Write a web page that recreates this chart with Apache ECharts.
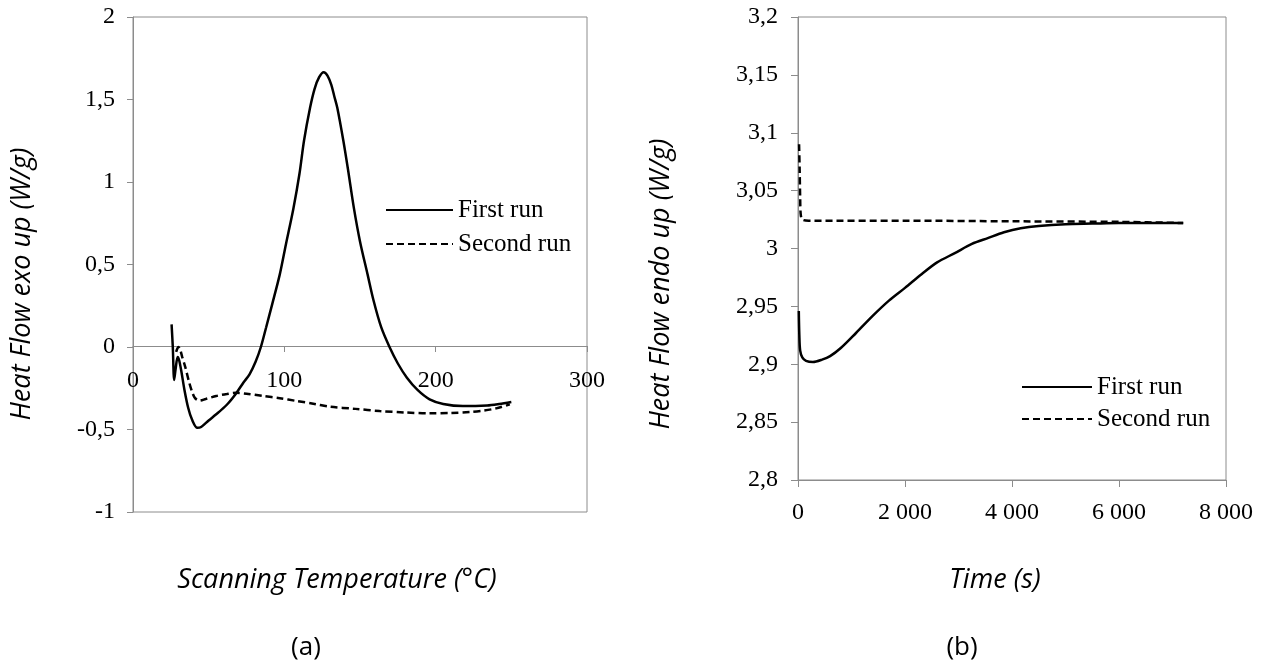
<!DOCTYPE html>
<html>
<head>
<meta charset="utf-8">
<script src="https://cdn.jsdelivr.net/npm/echarts@6/dist/echarts.min.js"></script>
<style>
  html, body { margin: 0; background: #fff; }
  #chart { width: 1273px; height: 667px; }
</style>
</head>
<body>
<div id="chart"></div>
<script>
// (a) scanning temperature (°C) vs heat flow exo up (W/g)
const scanFirst = [
  [25.5, 0.137], [26.3, 0.0], [27.2, -0.2], [28.2, -0.13], [29.5, -0.06], [30.5, -0.08],
  [32, -0.15], [34, -0.26], [36.5, -0.37], [39, -0.44], [42.5, -0.49], [45, -0.485],
  [50, -0.445], [55, -0.408], [62, -0.35], [68, -0.283], [73, -0.215], [77, -0.166],
  [81, -0.09], [84.5, 0], [88, 0.12], [92, 0.26], [97, 0.44], [101, 0.62], [106, 0.84],
  [110, 1.05], [113, 1.25], [117, 1.45], [120, 1.565], [123, 1.635], [126, 1.665],
  [128.5, 1.645], [131, 1.59], [133, 1.52], [135, 1.45], [139, 1.25], [142, 1.08],
  [146, 0.84], [150, 0.64], [155, 0.44], [159, 0.28], [164, 0.12], [169.5, 0],
  [175, -0.1], [181, -0.186], [188, -0.26], [196, -0.317], [205, -0.345], [218, -0.358],
  [234, -0.354], [242, -0.345], [250, -0.333]
]
const scanSecond = [
  [28.5, -0.03], [30, 0], [31, -0.01], [32.5, -0.06], [34.5, -0.12], [37, -0.21],
  [39, -0.27], [41, -0.31], [44, -0.325], [48, -0.315], [55, -0.297], [62, -0.285],
  [68, -0.278], [75, -0.283], [86, -0.297], [97, -0.31], [108, -0.327], [120, -0.345],
  [130, -0.362], [147, -0.375], [163, -0.388], [180, -0.397], [196, -0.402], [210, -0.4],
  [223, -0.394], [232, -0.385], [240, -0.372], [249, -0.348]
]

// (b) time (s) vs heat flow endo up (W/g)
const timeFirst = [
  [15, 2.946], [25, 2.925], [40, 2.912], [80, 2.906], [150, 2.903], [280, 2.902],
  [450, 2.904], [600, 2.907], [800, 2.914], [1084, 2.927], [1400, 2.942], [1700, 2.955],
  [2000, 2.966], [2315, 2.978], [2600, 2.988], [2931, 2.996], [3250, 3.004], [3547, 3.009],
  [3850, 3.014], [4163, 3.0175], [4500, 3.0195], [5000, 3.021], [5500, 3.0215],
  [6000, 3.022], [6500, 3.022], [7200, 3.022]
]
const timeSecond = [
  [20, 3.09], [30, 3.07], [40, 3.045], [50, 3.03], [80, 3.025], [200, 3.024],
  [2000, 3.024], [4000, 3.0235], [6000, 3.023], [7200, 3.022]
]

const seriesNames = ['First run', 'Second run']

const axisGray = '#8c8c8c'
const serif = 'Liberation Serif'

// 小数点用逗号
const commaFmt = v => String(+v.toFixed(2)).replace('.', ',')
// 千位用空格
const spaceFmt = v => String(v).replace(/\B(?=(\d{3})+(?!\d))/g, ' ')

const labelStyle = { fontFamily: serif, fontSize: 24, color: '#000' }
const titleFont = 'italic 27px "Open Sans"'

const solid = { color: '#000', width: 2.5, type: 'solid' }
const dashed = { color: '#000', width: 2.5, type: [7, 4] }

const legendBase = {
  orient: 'vertical',
  itemHeight: 14,
  itemStyle: { opacity: 0 },
  textStyle: { fontFamily: serif, fontSize: 25, color: '#000', lineHeight: 28 }
}

const lineSeries = (name, data, idx, style) => ({
  name, type: 'line', xAxisIndex: idx, yAxisIndex: idx, data,
  symbol: 'none', smooth: 0.3,
  lineStyle: style, itemStyle: { color: '#000' }
})

const chart = echarts.init(document.getElementById('chart'))

chart.setOption({
  animation: false,
  backgroundColor: '#fff',
  grid: [
    { left: 133, top: 17, width: 454, height: 495, show: true, borderColor: axisGray, borderWidth: 1 },
    { left: 798, top: 17, width: 428, height: 463, show: true, borderColor: axisGray, borderWidth: 1 }
  ],
  xAxis: [
    {
      // 横轴放在 y=0 处
      gridIndex: 0, type: 'value', min: 0, max: 300, interval: 100, offset: -166,
      axisLine: { onZero: false, lineStyle: { color: axisGray } },
      axisTick: { show: true, length: 6, lineStyle: { color: axisGray } },
      axisLabel: { ...labelStyle, margin: 23 },
      splitLine: { show: false }
    },
    {
      gridIndex: 1, type: 'value', min: 0, max: 8000, interval: 2000,
      axisLine: { lineStyle: { color: axisGray } },
      axisTick: { show: true, length: 7, lineStyle: { color: axisGray } },
      axisLabel: { ...labelStyle, margin: 21, formatter: spaceFmt },
      splitLine: { show: false }
    }
  ],
  yAxis: [
    {
      gridIndex: 0, type: 'value', min: -1, max: 2, interval: 0.5,
      axisLine: { show: true, onZero: false, lineStyle: { color: axisGray } },
      axisTick: { show: true, length: 6, lineStyle: { color: axisGray } },
      axisLabel: { ...labelStyle, margin: 18, formatter: commaFmt },
      splitLine: { show: false }
    },
    {
      gridIndex: 1, type: 'value', min: 2.8, max: 3.2, interval: 0.05,
      axisLine: { show: true, onZero: false, lineStyle: { color: axisGray } },
      axisTick: { show: true, length: 7, lineStyle: { color: axisGray } },
      axisLabel: { ...labelStyle, margin: 20, formatter: commaFmt },
      splitLine: { show: false }
    }
  ],
  legend: [
    { ...legendBase, data: seriesNames, left: 380, top: 191, itemWidth: 67, itemGap: 6 },
    { ...legendBase, data: seriesNames, left: 1016, top: 368, itemWidth: 70, itemGap: 4 }
  ],
  graphic: [
    { type: 'text', x: 22, y: 284, rotation: Math.PI / 2, style: { text: 'Heat Flow exo up (W/g)', align: 'center', verticalAlign: 'middle', font: titleFont, fill: '#000' } },
    { type: 'text', x: 661, y: 284, rotation: Math.PI / 2, style: { text: 'Heat Flow endo up (W/g)', align: 'center', verticalAlign: 'middle', font: titleFont, fill: '#000' } },
    { type: 'text', x: 337, y: 580, style: { text: 'Scanning Temperature (°C)', align: 'center', verticalAlign: 'middle', font: titleFont, fill: '#000' } },
    { type: 'text', x: 995, y: 580, style: { text: 'Time (s)', align: 'center', verticalAlign: 'middle', font: titleFont, fill: '#000' } },
    { type: 'text', x: 306, y: 648, style: { text: '(a)', align: 'center', verticalAlign: 'middle', font: '26px "Open Sans"', fill: '#000' } },
    { type: 'text', x: 962, y: 648, style: { text: '(b)', align: 'center', verticalAlign: 'middle', font: '26px "Open Sans"', fill: '#000' } }
  ],
  series: [
    lineSeries('First run', scanFirst, 0, solid),
    lineSeries('Second run', scanSecond, 0, dashed),
    lineSeries('First run', timeFirst, 1, solid),
    lineSeries('Second run', timeSecond, 1, dashed)
  ]
})
</script>
</body>
</html>
